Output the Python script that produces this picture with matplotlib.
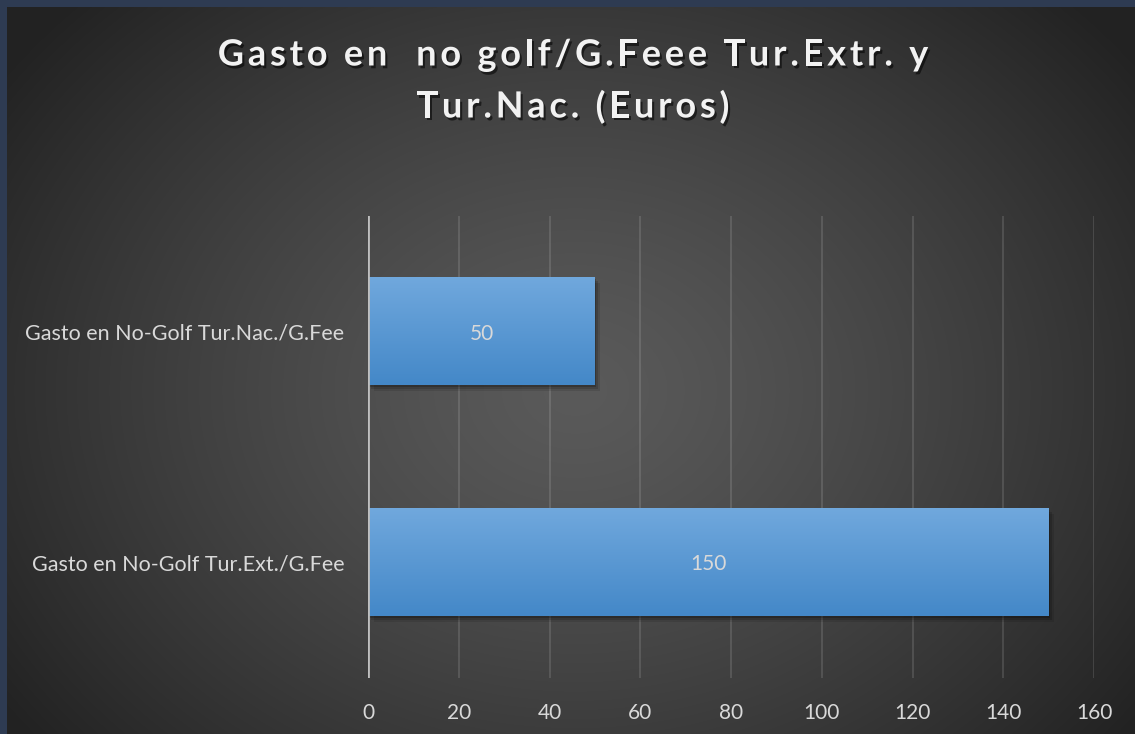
import numpy as np
import matplotlib

matplotlib.use("Agg")
import matplotlib.pyplot as plt  # noqa: E402
import matplotlib.patheffects as pe  # noqa: E402
from matplotlib.transforms import IdentityTransform  # noqa: E402

categories = ["Gasto en No-Golf Tur.Ext./G.Fee", "Gasto en No-Golf Tur.Nac./G.Fee"]
values = [150, 50]
xticks = [0, 20, 40, 60, 80, 100, 120, 140, 160]
title_lines = ["Gasto en  no golf/G.Feee Tur.Extr. y", "Tur.Nac. (Euros)"]

W, H = 1135, 734
fig = plt.figure(figsize=(W / 100, H / 100), dpi=100)

# radial background + navy frame on top/left
bg = fig.add_axes([0, 0, 1, 1], zorder=-10)
yy, xx = np.mgrid[0:H, 0:W]
r = np.hypot((xx - 575) / 700, (yy - 390) / 560)
g = np.clip(0x5a - (0x5a - 0x22) * r ** 1.3, 0x22, 0x5a) / 255
img = np.dstack([g, g, g])
img[:7, :, :] = np.array([0x2e, 0x3b, 0x52]) / 255
img[:, :7, :] = np.array([0x2e, 0x3b, 0x52]) / 255
bg.imshow(img, extent=(0, W, H, 0), aspect="auto", interpolation="bilinear")
bg.set_axis_off()

ax = fig.add_axes([368 / W, 1 - 678 / H, (1094 - 368) / W, (678 - 216) / H])
ax.set_facecolor("none")
ypos = np.arange(len(categories))
bars = ax.barh(ypos, values, height=0.465, color="#5a9bd8", zorder=3)

grad = np.linspace(0, 1, 64)[:, None]
top, bot = np.array([0x70, 0xa8, 0xdd]), np.array([0x44, 0x88, 0xc8])
gimg = (top[None, :] * (1 - grad) + bot[None, :] * grad)[:, None, :] / 255
soft_shadow = [
    pe.SimplePatchShadow(offset=(4, -4), shadow_rgbFace="black", alpha=0.10),
    pe.SimplePatchShadow(offset=(2.5, -2.5), shadow_rgbFace="black", alpha=0.15),
    pe.SimplePatchShadow(offset=(1, -1), shadow_rgbFace="black", alpha=0.2),
    pe.Normal(),
]
for b, v in zip(bars, values):
    b.set_path_effects(soft_shadow)
    x0, y0, w, h = b.get_x(), b.get_y(), b.get_width(), b.get_height()
    ax.imshow(gimg, extent=(x0, x0 + w, y0, y0 + h), aspect="auto", zorder=4,
              interpolation="bilinear")
    ax.text(x0 + w / 2, y0 + h / 2, str(v), ha="center", va="center_baseline",
            color="#d9d9d9", fontsize=15, family="Lato", zorder=5)

ax.set_xlim(0, 160)
ax.set_ylim(-0.5, 1.5)
ax.set_xticks(xticks)
ax.set_xticklabels([str(t) for t in xticks], family="Lato", fontsize=15, color="#d9d9d9")
ax.set_yticks(ypos)
ax.set_yticklabels(categories, family="Lato", fontsize=15.5, color="#d9d9d9")
ax.tick_params(length=0)
ax.tick_params(axis="x", pad=18)
ax.tick_params(axis="y", pad=17)
ax.grid(axis="x", color="white", alpha=0.12, lw=1.5, zorder=1)
for s in ax.spines.values():
    s.set_visible(False)
ax.axvline(0, color="#bfbfbf", lw=2, zorder=6)

# title with letter spacing, placed char by char
renderer = fig.canvas.get_renderer()
tkw = dict(color="#f2f2f2", fontsize=26, family="Lato", fontweight="bold", va="center",
           transform=IdentityTransform(),
           path_effects=[pe.withSimplePatchShadow(offset=(1.5, -2), shadow_rgbFace="black",
                                                  alpha=0.55)])


def text_width(s):
    t = fig.text(0, 0, s + "|", **tkw)
    wd = t.get_window_extent(renderer).width
    t.remove()
    return wd


spacing = 3.8
bar_w = text_width("")
for line, yc in zip(title_lines, [H - 55, H - 107]):
    total = text_width(line) - bar_w + spacing * (len(line) - 1)
    x_start = 573 - total / 2
    for i, ch in enumerate(line):
        if ch == " ":
            continue
        fig.text(x_start + text_width(line[:i]) - bar_w + i * spacing, yc, ch, ha="left", **tkw)

fig.savefig("out.png", dpi=100)
